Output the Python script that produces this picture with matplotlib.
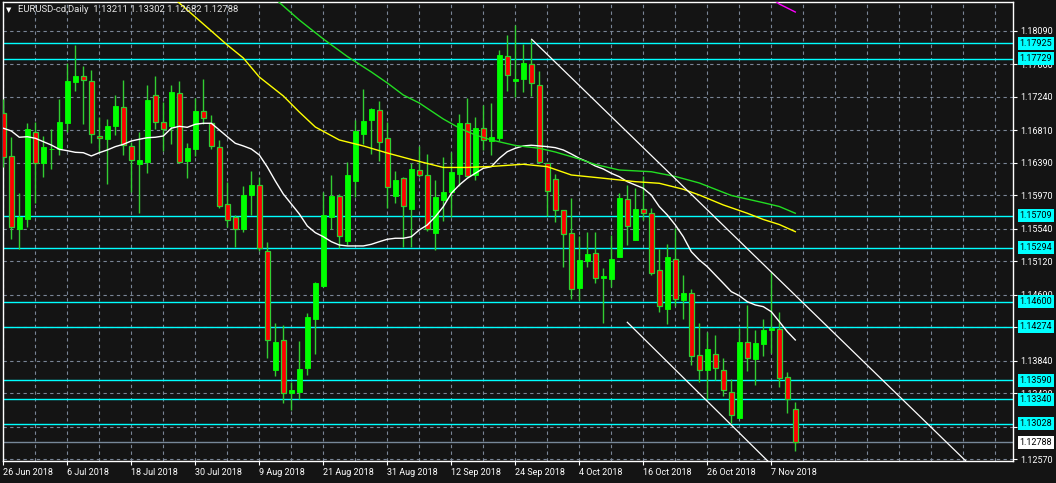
import matplotlib
matplotlib.use("Agg")
import matplotlib.pyplot as plt
import numpy as np

plt.rcParams['font.family'] = ['Roboto', 'DejaVu Sans']

# ---------------- data ----------------
date_labels = ['26 Jun 2018', '6 Jul 2018', '18 Jul 2018', '30 Jul 2018', '9 Aug 2018',
               '21 Aug 2018', '31 Aug 2018', '12 Sep 2018', '24 Sep 2018', '4 Oct 2018',
               '16 Oct 2018', '26 Oct 2018', '7 Nov 2018']
label_bars = [0, 8, 16, 24, 32, 40, 48, 56, 64, 72, 80, 88, 96]

opens = [1.17026, 1.16472, 1.15532, 1.15668, 1.16781, 1.16382, 1.16562, 1.16562, 1.16905, 1.17433,
         1.17502, 1.17442, 1.16733, 1.16699, 1.16866, 1.17103, 1.16601, 1.16377, 1.16398, 1.17258,
         1.16910, 1.16866, 1.17283, 1.16415, 1.16570, 1.17055, 1.16905, 1.16588, 1.15854, 1.15690,
         1.15532, 1.15970, 1.16098, 1.15256, 1.13723, 1.14106, 1.13418, 1.13434, 1.13749, 1.14380,
         1.14805, 1.15694, 1.15957, 1.15384, 1.16158, 1.16763, 1.16943, 1.17064, 1.16704, 1.15964,
         1.16189, 1.15796, 1.16292, 1.16227, 1.15488, 1.15909, 1.16017, 1.16248, 1.16901, 1.16235,
         1.16833, 1.16669, 1.16711, 1.17760, 1.17442, 1.17471, 1.17657, 1.17386, 1.16389, 1.16176,
         1.15780, 1.15480, 1.14772, 1.15123, 1.15222, 1.14908, 1.14895, 1.15174, 1.15918, 1.15398,
         1.15789, 1.15737, 1.15004, 1.14505, 1.15153, 1.14625, 1.14707, 1.13909, 1.13723, 1.13922,
         1.13719, 1.13432, 1.13105, 1.14076, 1.13861, 1.14058, 1.14239, 1.14248, 1.13625, 1.13211]

highs = [1.17210, 1.16724, 1.15999, 1.16905, 1.16914, 1.16733, 1.16824, 1.17210, 1.17677, 1.17905,
         1.17635, 1.17579, 1.16982, 1.16948, 1.17261, 1.17455, 1.16660, 1.16785, 1.17390, 1.17506,
         1.17171, 1.17390, 1.17442, 1.16643, 1.17219, 1.17467, 1.17004, 1.16682, 1.16141, 1.15716,
         1.16089, 1.16282, 1.16205, 1.15364, 1.14321, 1.14299, 1.13568, 1.14093, 1.14454, 1.14853,
         1.16008, 1.16231, 1.15984, 1.16395, 1.16939, 1.17339, 1.17098, 1.17184, 1.16914, 1.16282,
         1.16201, 1.16382, 1.16605, 1.16498, 1.16167, 1.16459, 1.16523, 1.17017, 1.17227, 1.16982,
         1.17133, 1.17162, 1.17841, 1.18034, 1.18163, 1.17918, 1.17979, 1.17570, 1.16389, 1.16244,
         1.15780, 1.15931, 1.15445, 1.15497, 1.15497, 1.15037, 1.15458, 1.16003, 1.16102, 1.16058,
         1.16218, 1.15802, 1.15278, 1.15342, 1.15545, 1.14943, 1.14758, 1.14321, 1.14205, 1.14170,
         1.13874, 1.13600, 1.14264, 1.14557, 1.14235, 1.14376, 1.14986, 1.14463, 1.13697, 1.13302]

lows = [1.16338, 1.15403, 1.15274, 1.15565, 1.15874, 1.16201, 1.16304, 1.16493, 1.16789, 1.17317,
        1.16892, 1.16647, 1.16511, 1.16119, 1.16750, 1.16489, 1.16016, 1.15745, 1.16261, 1.16824,
        1.16544, 1.16634, 1.16389, 1.16196, 1.16480, 1.16884, 1.16562, 1.15810, 1.15565, 1.15307,
        1.15501, 1.15716, 1.15256, 1.13870, 1.13646, 1.13291, 1.13204, 1.13346, 1.13655, 1.13929,
        1.14792, 1.15532, 1.15287, 1.15329, 1.15944, 1.16626, 1.16498, 1.16411, 1.15802, 1.15866,
        1.15307, 1.15307, 1.16209, 1.15510, 1.15265, 1.15642, 1.15694, 1.16093, 1.16209, 1.16170,
        1.16553, 1.16489, 1.16673, 1.17313, 1.17240, 1.17304, 1.17249, 1.16382, 1.15703, 1.15629,
        1.15050, 1.14634, 1.14621, 1.15042, 1.14836, 1.14321, 1.14792, 1.15170, 1.15329, 1.15398,
        1.15652, 1.14943, 1.14467, 1.14312, 1.14548, 1.14380, 1.13780, 1.13561, 1.13342, 1.13591,
        1.13388, 1.13033, 1.13097, 1.13710, 1.13530, 1.13904, 1.13942, 1.13503, 1.13162, 1.12682]

closes = [1.16459, 1.15557, 1.15686, 1.16820, 1.16382, 1.16592, 1.16566, 1.16914, 1.17442, 1.17506,
          1.17451, 1.16755, 1.16704, 1.16862, 1.17120, 1.16617, 1.16420, 1.16420, 1.17197, 1.16910,
          1.16820, 1.17300, 1.16402, 1.16579, 1.17055, 1.16961, 1.16601, 1.15836, 1.15648, 1.15532,
          1.15970, 1.16102, 1.15287, 1.14106, 1.14080, 1.13418, 1.13461, 1.13732, 1.14402, 1.14840,
          1.15712, 1.15964, 1.15442, 1.16231, 1.16798, 1.16926, 1.17081, 1.16652, 1.16073, 1.16167,
          1.15828, 1.16308, 1.16227, 1.15536, 1.15948, 1.16013, 1.16270, 1.16901, 1.16222, 1.16836,
          1.16678, 1.16720, 1.17777, 1.17515, 1.17467, 1.17674, 1.17412, 1.16395, 1.16021, 1.15776,
          1.15467, 1.14763, 1.15136, 1.15213, 1.14900, 1.14930, 1.15153, 1.15931, 1.15571, 1.15789,
          1.15737, 1.14973, 1.14540, 1.15170, 1.14630, 1.14707, 1.13904, 1.13715, 1.13991, 1.13741,
          1.13458, 1.13144, 1.14080, 1.13870, 1.14071, 1.14235, 1.14261, 1.13620, 1.13351, 1.12788]

# moving averages
ma_white = [1.16833, 1.16798, 1.16717, 1.16724, 1.16704, 1.16660, 1.16617, 1.16562, 1.16544, 1.16523,
            1.16518, 1.16476, 1.16518, 1.16553, 1.16596, 1.16626, 1.16669, 1.16691, 1.16711, 1.16717,
            1.16733, 1.16833, 1.16858, 1.16845, 1.16884, 1.16897, 1.16897, 1.16811, 1.16724, 1.16639,
            1.16605, 1.16566, 1.16489, 1.16334, 1.16154, 1.15986, 1.15858, 1.15729, 1.15574, 1.15488,
            1.15436, 1.15372, 1.15329, 1.15317, 1.15317, 1.15317, 1.15338, 1.15372, 1.15403, 1.15416,
            1.15416, 1.15436, 1.15523, 1.15587, 1.15694, 1.15823, 1.15995, 1.16102, 1.16189, 1.16253,
            1.16317, 1.16338, 1.16446, 1.16531, 1.16575, 1.16605, 1.16614, 1.16605, 1.16596, 1.16583,
            1.16553, 1.16502, 1.16446, 1.16402, 1.16347, 1.16308, 1.16253, 1.16209, 1.16145, 1.16102,
            1.16060, 1.15973, 1.15823, 1.15716, 1.15587, 1.15436, 1.15243, 1.15136, 1.15050, 1.14943,
            1.14836, 1.14728, 1.14676, 1.14599, 1.14557, 1.14535, 1.14470, 1.14342, 1.14213, 1.14106]

ma_yellow_bars = [21, 22, 24, 26, 28, 30, 32, 35, 37, 39, 42, 45, 48, 51, 55, 58, 61, 65, 68, 71,
                  75, 79, 82, 85, 87, 90, 93, 95, 97, 99]
ma_yellow = [1.18537, 1.18446, 1.18266, 1.18086, 1.17905, 1.17738, 1.17493, 1.17249, 1.17042, 1.16849,
             1.16682, 1.16605, 1.16514, 1.16431, 1.16328, 1.16328, 1.16341, 1.16369, 1.16338, 1.16231,
             1.16189, 1.16145, 1.16124, 1.16047, 1.15973, 1.15845, 1.15738, 1.15658, 1.15593, 1.15501]

ma_green_bars = [33, 35, 37, 40, 43, 46, 48, 50, 52, 55, 57, 59, 61, 64, 67, 69, 72, 74, 77, 81,
                 84, 87, 91, 95, 97, 99]
ma_green = [1.18588, 1.18408, 1.18227, 1.17983, 1.17757, 1.17558, 1.17416, 1.17261, 1.17158, 1.16952,
            1.16836, 1.16746, 1.16682, 1.16611, 1.16575, 1.16527, 1.16437, 1.16366, 1.16295, 1.16273,
            1.16212, 1.16128, 1.15967, 1.15874, 1.15825, 1.15738]

ma_magenta_bars = [96, 97, 98, 99]
ma_magenta = [1.18511, 1.18433, 1.18382, 1.18330]

# trend channel lines (start bar, start price, end bar, end price)
trend_upper = ([66.05, 126.5], [1.17979, 1.11928])
trend_lower = ([78.0, 126.5], [1.14334, 1.09397])

levels = [1.17925, 1.17729, 1.15709, 1.15294, 1.14600, 1.14274, 1.13590, 1.13340, 1.13028]
grid_levels = [1.18090, 1.17660, 1.17240, 1.16810, 1.16390, 1.15970, 1.15540, 1.15120,
               1.14690, 1.14270, 1.13840, 1.13420, 1.12990, 1.12570]
# grid labels that are completely covered by a level label in the reference
hidden_grid_labels = [1.14270]

title = 'EURUSD-cd,Daily  1.13211 1.13302 1.12682 1.12788'

# ---------------- style ----------------
BG = '#141414'
GRID = '#7a8596'
WICK = '#32CD32'
BULL = '#00FF00'
BEAR = '#FF0000'

W, H = 1056, 483
fig = plt.figure(figsize=(W / 100, H / 100), dpi=100, facecolor=BG)
ax = fig.add_axes([2.5 / W, 1 - 461 / H, (1013.3 - 2.5) / W, (461 - 2) / H])
ax.set_facecolor(BG)
ax.set_xlim(-0.1, 126.25)
ax.set_ylim(1.12547, 1.18459)

# grid
for g in grid_levels:
    ax.axhline(g, color=GRID, lw=0.8, ls=(0, (3, 3)), zorder=0.5)
for b in range(0, 128, 4):
    ax.axvline(b, color=GRID, lw=0.8, ls=(0, (3, 3)), zorder=0.5)

# horizontal levels
for lv in levels:
    ax.axhline(lv, color='#00FFFF', lw=1.0, zorder=1)
ax.axhline(closes[-1], color='#778899', lw=1.0, zorder=1)

# candles
x = np.arange(len(opens))
o = np.array(opens); c = np.array(closes); hi = np.array(highs); lo = np.array(lows)
ax.vlines(x, lo, hi, colors=WICK, lw=1.0, zorder=3)
bull = c >= o
bottoms = np.minimum(o, c)
heights = np.maximum(np.abs(c - o), 0.00006)
ax.bar(x[bull], heights[bull], bottom=bottoms[bull], width=0.6, color=BULL,
       edgecolor=BULL, lw=0.6, zorder=4)
ax.bar(x[~bull], heights[~bull], bottom=bottoms[~bull], width=0.6, color=BEAR,
       edgecolor=WICK, lw=0.9, zorder=4)

# moving averages
ax.plot(x, ma_white, color='white', lw=1.0, zorder=5)
ax.plot(ma_yellow_bars, ma_yellow, color='#FFFF00', lw=1.0, zorder=5)
ax.plot(ma_green_bars, ma_green, color='#22DD22', lw=1.0, zorder=5)
ax.plot(ma_magenta_bars, ma_magenta, color='#FF00FF', lw=1.0, zorder=5)

# trend lines
ax.plot(trend_upper[0], trend_upper[1], color='white', lw=0.9, zorder=5)
ax.plot(trend_lower[0], trend_lower[1], color='white', lw=0.9, zorder=5)

# axes styling
for s in ax.spines.values():
    s.set_color('white')
    s.set_linewidth(1.0)
ax.yaxis.tick_right()
ax.set_yticks(grid_levels)
ax.set_yticklabels(['' if v in hidden_grid_labels else f'{v:.5f}' for v in grid_levels])
ax.set_xticks(label_bars)
ax.set_xticklabels(date_labels)
for lbl in ax.get_xticklabels():
    lbl.set_ha('left')
ax.tick_params(axis='y', colors='white', labelsize=6.5, length=3, width=0.8, pad=2)
ax.tick_params(axis='x', colors='white', labelsize=6.5, length=3, width=0.8, pad=2)

# level labels
for lv in levels:
    ax.annotate(f'{lv:.5f}', xy=(1, lv), xycoords=('axes fraction', 'data'),
                xytext=(4.5, 0), textcoords='offset points', va='center', ha='left',
                fontsize=6.5, color='black', annotation_clip=False, zorder=10,
                bbox=dict(boxstyle='square,pad=0.22', fc='#00FFFF', ec='none'))
ax.annotate(f'{closes[-1]:.5f}', xy=(1, closes[-1]), xycoords=('axes fraction', 'data'),
            xytext=(4.5, 0), textcoords='offset points', va='center', ha='left',
            fontsize=6.5, color='black', annotation_clip=False, zorder=10,
            bbox=dict(boxstyle='square,pad=0.22', fc='white', ec='none'))

# title
fig.text(6 / W, 1 - 10 / H, '\u25BC', color='white', fontsize=5, va='center',
         family=['DejaVu Sans'])
fig.text(18 / W, 1 - 10 / H, title, color='#E6E6E6', fontsize=6.8, va='center')

fig.savefig('out.png', dpi=100, facecolor=BG)
